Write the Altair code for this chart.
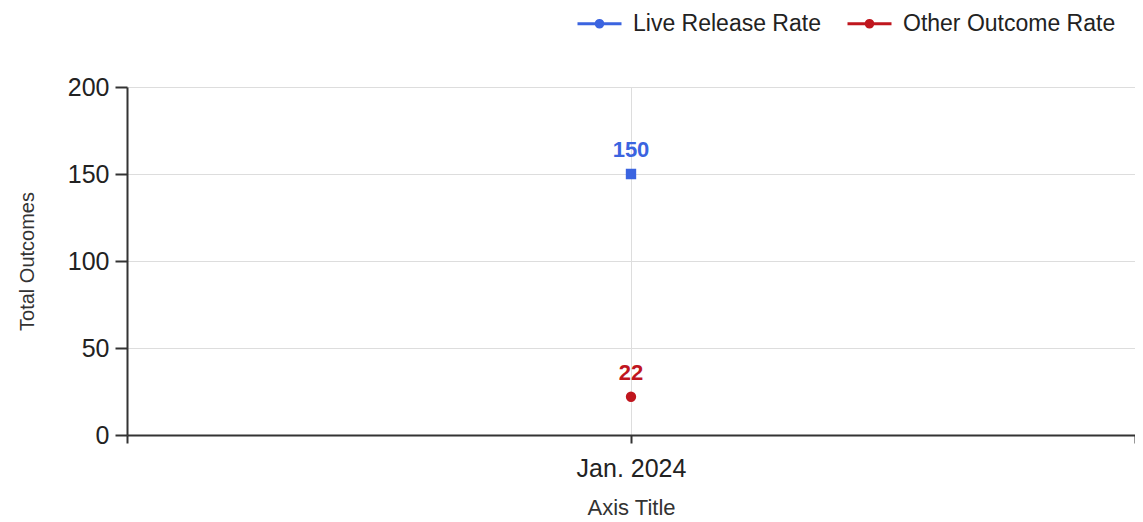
import altair as alt
import pandas as pd

months = ["Jan. 2024"]
series = ["Live Release Rate", "Other Outcome Rate"]
live_release = [150]
other_outcome = [22]
colors = ["#3b64e0", "#c0161e"]
shapes = ["square", "circle"]

rows = []
for i, m in enumerate(months):
    rows.append({"month": m, "series": series[0], "value": live_release[i]})
    rows.append({"month": m, "series": series[1], "value": other_outcome[i]})
df = pd.DataFrame(rows)

FONT = "Liberation Sans"
legend_path = "M-1,0H1M0.15,0A0.15,0.15,0,1,1,-0.15,0A0.15,0.15,0,1,1,0.15,0Z"

x_main = alt.X(
    "month:N",
    scale=alt.Scale(type="point", padding=0.5),
    axis=alt.Axis(
        title="Axis Title", orient="bottom", labelAngle=0, labelFontSize=25,
        labelColor="#222", labelFont=FONT, labelPadding=13, tickSize=8,
        tickColor="#333", tickWidth=2, domainColor="#333", domainWidth=2,
        grid=True, gridColor="#dddddd", gridWidth=1,
        titleFontSize=22, titleFont=FONT, titleColor="#333",
        titleFontWeight="normal", titlePadding=16,
    ),
)
y_enc = alt.Y(
    "value:Q",
    scale=alt.Scale(domain=[0, 200], nice=False),
    axis=alt.Axis(
        title="Total Outcomes", values=[0, 50, 100, 150, 200],
        labelFontSize=25, labelColor="#222", labelFont=FONT, labelPadding=6,
        tickSize=12, tickColor="#333", tickWidth=2, domainColor="#333",
        domainWidth=2, grid=True, gridColor="#dddddd", gridWidth=1,
        titleFontSize=20, titleFont=FONT, titleColor="#333",
        titleFontWeight="normal", titlePadding=30,
    ),
)

leg = alt.Legend(
    title=None, orient="none", legendX=449, legendY=-87, direction="horizontal",
    symbolType=legend_path, symbolSize=1936, symbolStrokeWidth=3,
    labelFontSize=23, labelFont=FONT, labelColor="#222", labelOffset=10,
    labelLimit=0, columnPadding=20,
)

base = alt.Chart(df)

points = base.mark_point(filled=True, size=70, strokeWidth=2, opacity=1).transform_calculate(
    marker="datum.series"
).encode(
    x=x_main,
    y=y_enc,
    fill=alt.Fill("series:N", scale=alt.Scale(domain=series, range=colors), legend=leg),
    stroke=alt.Stroke("series:N", scale=alt.Scale(domain=series, range=colors), legend=leg),
    shape=alt.Shape("marker:N", scale=alt.Scale(range=shapes), legend=None),
)

labels = base.mark_text(
    fontSize=22, fontWeight="bold", font=FONT, baseline="alphabetic", dy=-17
).encode(
    x=x_main,
    y=y_enc,
    text=alt.Text("value:Q"),
    color=alt.condition(alt.datum.series == series[0], alt.value(colors[0]), alt.value(colors[1])),
)

edge_ticks = base.mark_point(opacity=0).encode(
    x=alt.X(
        "month:N",
        scale=alt.Scale(type="band", paddingInner=0, paddingOuter=0),
        axis=alt.Axis(
            title=None, orient="bottom", labels=False, domain=False, grid=False,
            tickBand="extent", tickSize=8, tickColor="#333", tickWidth=2,
        ),
    ),
    y=y_enc,
)

main = points + labels
chart = alt.layer(main, edge_ticks).resolve_scale(x="independent").properties(
    width=1008,
    height=348,
    autosize=alt.AutoSizeParams(type="none"),
    padding={"left": 119, "top": 79, "right": 0, "bottom": 87},
).configure_view(stroke=None)

chart.save("out.html", embed_options={"renderer": "svg", "actions": False})
